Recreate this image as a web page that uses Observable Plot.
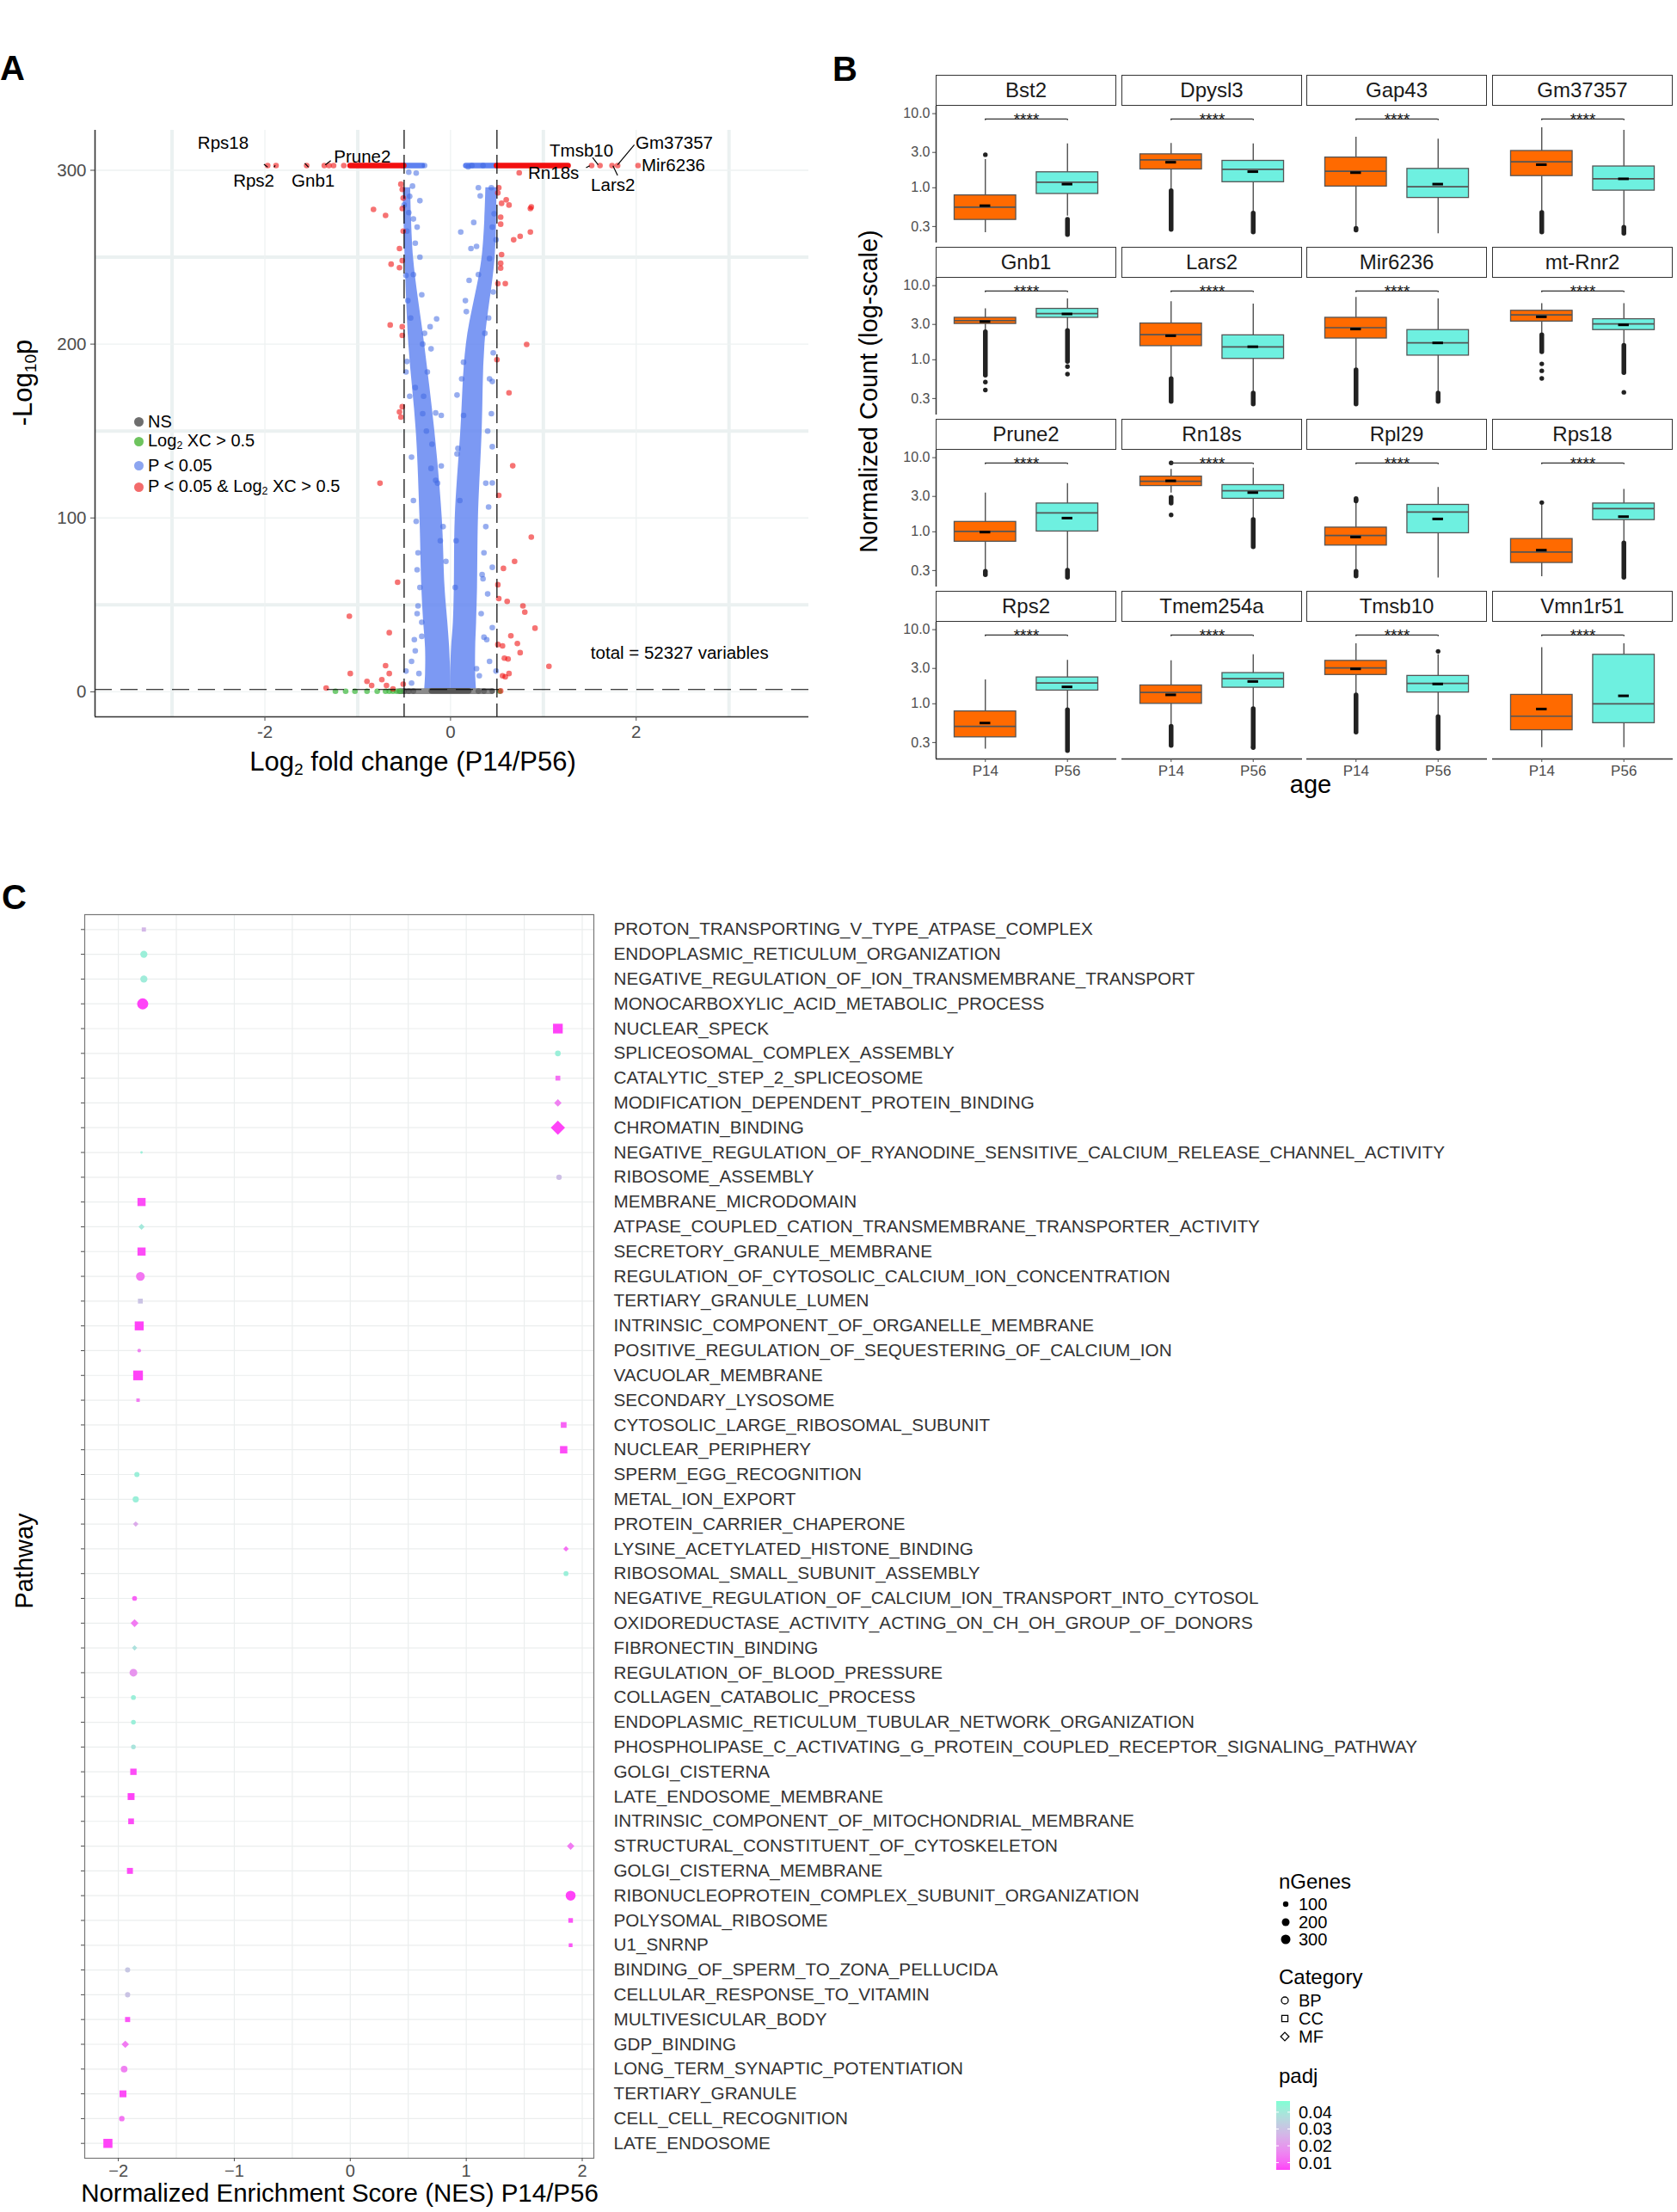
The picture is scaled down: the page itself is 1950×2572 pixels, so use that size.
<!DOCTYPE html>
<html><head><meta charset="utf-8">
<script src="https://cdn.jsdelivr.net/npm/d3@7"></script>
<script src="https://cdn.jsdelivr.net/npm/@observablehq/plot@0.6"></script>
<style>
body{margin:0;background:#fff;}
#root{position:relative;width:1950px;height:2572px;background:#fff;overflow:hidden;font-family:"Liberation Sans",Arial,Helvetica,sans-serif;}
.abs{position:absolute;white-space:nowrap;line-height:1;}
sub{font-size:62%;vertical-align:-0.25em;}
</style></head><body><div id="root"></div>
<script>
// ===================== DATA: Panel A (volcano) =====================
const redX = [-0.535,-0.52,-0.51,-0.52,-0.83,-0.70,-0.51,-0.55,-0.64,-0.55,-0.52,-0.65,-0.52,-0.52,-0.55,-0.52,-0.535,-0.76,-0.57,-1.09,-0.66,-0.70,-1.08,-0.66,-0.90,-0.74,-0.85,-0.69,-0.51,-0.62,-1.34,
  0.52,0.51,0.55,0.60,0.63,0.86,0.54,0.54,0.68,0.75,0.86,0.55,0.54,0.54,0.59,0.51,0.82,0.50,0.63,0.67,0.52,0.87,0.69,0.57,0.51,0.52,0.61,0.78,0.80,0.91,0.65,0.72,0.51,0.56,0.75,0.58,0.62,1.06,0.56,0.59,0.63,0.54,
  -1.97,-1.88,-1.55,-1.36,-1.31,-1.26,-1.15,1.52,1.61,1.74,1.80,2.02,0.74,0.87];
const redY = [292,289,284,278,277.5,274,265,255,246,244,248,211,210,205,161,164,158,120,63,43.5,34,15,10.5,10.5,6,7,3.6,3.6,4.4,1.7,2.2,
  290,287,281,283,280,278,273,269,260,262,264.5,251.5,246.5,243.7,234.8,234.8,199.8,191,172,130,113,89,75,71,61.6,53.6,52,49.4,45.8,36.6,32.2,27.8,27.2,26.4,22.5,19.4,18.9,14.7,9.2,8.6,10.5,0.5,
  302.7,302.7,302.7,302.7,302.7,302.7,302.7,302.7,302.7,302.7,302.7,302.7,298.5,278.9];
const blueX = [-0.45,-0.37,-0.41,-0.33,-0.45,-0.36,-0.38,-0.48,-0.31,-0.15,-0.21,-0.28,-0.25,-0.48,-0.16,-0.10,-0.20,-0.21,-0.10,-0.16,-0.37,-0.11,-0.36,-0.35,-0.38,-0.42,-0.34,-0.42,-0.48,-0.31,-0.28,
  -0.40,-0.42,-0.44,-0.47,-0.43,-0.46,-0.40,-0.38,-0.30,-0.14,-0.08,-0.05,-0.35,-0.33,-0.31,-0.39,-0.36,-0.29,-0.26,-0.33,-0.47,-0.50,-0.44,-0.40,-0.22,-0.30,
  0.19,0.11,0.20,0.32,0.28,0.42,0.45,0.17,0.37,0.14,0.45,0.07,0.14,0.45,0.07,0.45,0.41,0.06,0.45,0.34,0.40,0.45,0.36,0.42,0.49,0.28,0.31,0.23,0.35,
  0.38,0.40,0.44,0.46,0.41,0.46,0.30,0.25,0.22,0.38,0.36,0.33,0.39,0.10,0.08,0.12,0.16,0.47,0.44,0.49,0.30,0.42,0.05,0.35];
const blueY = [298.9,298.4,290.9,282.5,275.6,267.3,258.1,239.5,228.4,214.5,197.3,206.2,184,184,160.4,159,142.4,128.5,129.9,121.6,98,86.9,70.2,49.4,23.6,17.5,10.5,5,11.9,31.9,302.7,
  110,135,170,190,215,225,240,175,160,120,95,75,80,60,40,30,45,170,150,250,265,280,285,272,210,200,
  302,264.5,236.7,285.3,256.2,249.2,267.3,218.7,206.2,189.6,178.5,170.7,159,141,136.8,120.2,106.3,86.9,71.6,67.4,56.3,36.9,31.4,17.5,11.9,13.3,9.2,302.7,302.7,
  120,150,160,195,215,230,240,270,255,95,80,45,30,110,140,180,225,275,290,260,290,180,60,65];
const greenX = [-1.24,-1.13,-1.03,-0.90,-0.79,-0.70,-0.66,-0.62,-0.58,-0.54,0.53];
const greenY = [0.3,0.3,0.3,0.3,0.3,0.3,0.3,0.3,0.3,0.3,0.3];
const greyX = [-0.50,-0.45,-0.40,0.30,0.36,0.45];
const greyY = [0.4,0.4,0.4,0.4,0.4,0.4];
// dense runs of overplotted points (capped p-values at top, NS cluster at bottom)
const bandGroup = ["blue","red","blue","red","grey","greyDark"];
const bandX1 = [-0.51,-1.077,0.17,0.50,-0.55,-0.20];
const bandX2 = [-0.30,-0.50,0.50,1.27,0.45,0.20];
const bandY = [302.7,302.7,302.7,302.7,0.4,0.6];
// envelope of the dense core of the "P < 0.05" cloud
const cloudY = [0.5,10,25,40,60,100,150,200,250,290];
const cloudLeftOuter = [-0.28,-0.27,-0.27,-0.29,-0.31,-0.33,-0.37,-0.45,-0.49,-0.51];
const cloudLeftInner = [0.0,0.0,-0.01,-0.03,-0.06,-0.09,-0.17,-0.28,-0.40,-0.43];
const cloudRightInner = [0.0,0.0,0.01,0.03,0.04,0.05,0.11,0.17,0.34,0.38];
const cloudRightOuter = [0.28,0.27,0.27,0.28,0.29,0.30,0.34,0.37,0.48,0.50];
// gene labels
const labName = ["Rps18","Rps2","Gnb1","Prune2","Tmsb10","Gm37357","Mir6236","Rn18s","Lars2"];
const labX = [-2.45,-2.12,-1.48,-0.95,1.41,2.41,2.40,1.11,1.75];
const labY = [315.6,294,294,307.6,311.4,315.5,302.6,298.2,291.6];
const conX1 = [-2.01,-1.90,-1.57,-1.35,1.53,1.98,1.75,1.46];
const conY1 = [303.5,301.8,304,303.1,307.3,314.7,302.6,301.5];
const conX2 = [-1.97,-1.89,-1.53,-1.29,1.59,1.80,1.80,1.50];
const conY2 = [301.8,302.8,301.8,305.6,303.1,303.1,297,302.6];
const volcanoXTicks = [-2,0,2];
const volcanoYTicks = [0,100,200,300];

// ===================== DATA: Panel B (boxplots) =====================
const genes = ["Bst2","Dpysl3","Gap43","Gm37357","Gnb1","Lars2","Mir6236","mt-Rnr2","Prune2","Rn18s","Rpl29","Rps18","Rps2","Tmem254a","Tmsb10","Vmn1r51"];
const ages = ["P14","P56"];
const p14Hi   = [2.41,3.97,4.81,6.44,4.87,6.07,6.93,5.73,3.33,6.93,2.40,2.31,2.11,3.80,6.44,5.73];
const p14Q3   = [0.79,2.83,2.56,3.14,3.69,3.09,3.69,4.59,1.36,5.56,1.14,0.80,0.79,1.77,3.80,1.32];
const p14Med  = [0.548,2.38,1.67,2.24,3.38,2.18,2.71,4.03,1.01,4.81,0.89,0.532,0.495,1.42,3.05,0.68];
const p14Mean = [0.573,2.21,1.60,2.05,3.28,2.11,2.60,3.80,0.99,4.87,0.85,0.565,0.55,1.32,2.96,0.85];
const p14Q1   = [0.369,1.77,1.04,1.44,3.05,1.53,1.94,3.28,0.735,4.15,0.653,0.38,0.353,1.00,2.45,0.44];
const p14Lo   = [0.248,0.93,0.288,0.48,2.41,0.565,0.735,2.21,0.296,3.33,0.296,0.248,0.245,0.49,1.32,0.256];
const p14OutLo = [null,0.27,0.265,0.25,0.61,0.27,0.25,1.27,0.26,2.40,0.25,null,null,0.27,0.41,null];
const p14OutHi = [null,0.90,0.28,0.46,2.35,0.55,0.72,2.15,0.29,2.87,0.29,null,null,0.49,1.30,null];
const p56Hi   = [3.91,3.91,4.53,5.98,6.64,5.65,6.64,5.73,4.47,7.24,3.97,3.74,3.86,4.59,4.59,6.44];
const p56Q3   = [1.62,2.31,1.80,1.94,4.87,2.14,2.52,3.53,2.41,4.27,2.31,2.41,2.27,2.60,2.38,4.59];
const p56Med  = [1.19,1.77,1.03,1.32,4.21,1.49,1.69,3.05,1.80,3.58,1.85,2.05,1.91,2.18,1.88,1.00];
const p56Mean = [1.12,1.65,1.12,1.32,4.15,1.50,1.69,2.96,1.53,3.38,1.49,1.60,1.69,2.00,1.85,1.28];
const p56Q1   = [0.826,1.19,0.73,0.916,3.69,1.03,1.14,2.52,1.01,2.79,0.957,1.44,1.51,1.65,1.42,0.548];
const p56Lo   = [0.415,0.47,0.24,0.296,2.52,0.364,0.364,1.60,0.305,1.49,0.238,0.715,0.85,0.877,0.68,0.256];
const p56OutLo = [0.23,0.25,null,0.24,0.94,0.25,0.27,0.66,0.24,0.62,null,0.24,0.23,0.26,0.245,null];
const p56OutHi = [0.37,0.45,null,0.29,2.45,0.35,0.35,1.55,0.30,1.45,null,0.70,0.82,0.85,0.66,null];
const singleGene = ["Bst2","Gnb1","Gnb1","Gnb1","Gnb1","mt-Rnr2","mt-Rnr2","mt-Rnr2","mt-Rnr2","Rn18s","Rn18s","Rps18","Rpl29","Rpl29","Rpl29","Tmsb10","Tmem254a"];
const singleAge  = ["P14","P14","P14","P56","P56","P14","P14","P14","P56","P14","P14","P14","P14","P14","P14","P56","P56"];
const singleVal  = [2.79,0.50,0.39,0.81,0.64,0.88,0.71,0.56,0.364,8.5,1.69,2.48,2.6,2.7,2.8,5.1,0.256];
const sigY = 8.46;
const sigLabel = "****";
const boxYTicks = [0.3,1,3,10];

// ===================== DATA: Panel C (GSEA dot plot) =====================
const pathways = ["PROTON_TRANSPORTING_V_TYPE_ATPASE_COMPLEX","ENDOPLASMIC_RETICULUM_ORGANIZATION","NEGATIVE_REGULATION_OF_ION_TRANSMEMBRANE_TRANSPORT","MONOCARBOXYLIC_ACID_METABOLIC_PROCESS","NUCLEAR_SPECK","SPLICEOSOMAL_COMPLEX_ASSEMBLY","CATALYTIC_STEP_2_SPLICEOSOME","MODIFICATION_DEPENDENT_PROTEIN_BINDING","CHROMATIN_BINDING","NEGATIVE_REGULATION_OF_RYANODINE_SENSITIVE_CALCIUM_RELEASE_CHANNEL_ACTIVITY","RIBOSOME_ASSEMBLY","MEMBRANE_MICRODOMAIN","ATPASE_COUPLED_CATION_TRANSMEMBRANE_TRANSPORTER_ACTIVITY","SECRETORY_GRANULE_MEMBRANE","REGULATION_OF_CYTOSOLIC_CALCIUM_ION_CONCENTRATION","TERTIARY_GRANULE_LUMEN","INTRINSIC_COMPONENT_OF_ORGANELLE_MEMBRANE","POSITIVE_REGULATION_OF_SEQUESTERING_OF_CALCIUM_ION","VACUOLAR_MEMBRANE","SECONDARY_LYSOSOME","CYTOSOLIC_LARGE_RIBOSOMAL_SUBUNIT","NUCLEAR_PERIPHERY","SPERM_EGG_RECOGNITION","METAL_ION_EXPORT","PROTEIN_CARRIER_CHAPERONE","LYSINE_ACETYLATED_HISTONE_BINDING","RIBOSOMAL_SMALL_SUBUNIT_ASSEMBLY","NEGATIVE_REGULATION_OF_CALCIUM_ION_TRANSPORT_INTO_CYTOSOL","OXIDOREDUCTASE_ACTIVITY_ACTING_ON_CH_OH_GROUP_OF_DONORS","FIBRONECTIN_BINDING","REGULATION_OF_BLOOD_PRESSURE","COLLAGEN_CATABOLIC_PROCESS","ENDOPLASMIC_RETICULUM_TUBULAR_NETWORK_ORGANIZATION","PHOSPHOLIPASE_C_ACTIVATING_G_PROTEIN_COUPLED_RECEPTOR_SIGNALING_PATHWAY","GOLGI_CISTERNA","LATE_ENDOSOME_MEMBRANE","INTRINSIC_COMPONENT_OF_MITOCHONDRIAL_MEMBRANE","STRUCTURAL_CONSTITUENT_OF_CYTOSKELETON","GOLGI_CISTERNA_MEMBRANE","RIBONUCLEOPROTEIN_COMPLEX_SUBUNIT_ORGANIZATION","POLYSOMAL_RIBOSOME","U1_SNRNP","BINDING_OF_SPERM_TO_ZONA_PELLUCIDA","CELLULAR_RESPONSE_TO_VITAMIN","MULTIVESICULAR_BODY","GDP_BINDING","LONG_TERM_SYNAPTIC_POTENTIATION","TERTIARY_GRANULE","CELL_CELL_RECOGNITION","LATE_ENDOSOME"];
const nes = [-1.78,-1.78,-1.78,-1.79,1.79,1.79,1.79,1.79,1.79,-1.80,1.80,-1.80,-1.80,-1.80,-1.81,-1.81,-1.82,-1.82,-1.83,-1.83,1.84,1.84,-1.84,-1.85,-1.85,1.86,1.86,-1.86,-1.86,-1.86,-1.87,-1.87,-1.87,-1.87,-1.87,-1.89,-1.89,1.90,-1.90,1.90,1.90,1.90,-1.92,-1.92,-1.92,-1.94,-1.95,-1.96,-1.97,-2.09];
const nGenes = [75,170,170,410,400,110,100,150,550,20,100,280,100,280,260,100,340,45,400,50,140,230,90,130,80,80,80,80,170,75,200,80,75,75,170,200,140,150,150,330,90,60,90,90,110,150,150,200,100,350];
const category = ["CC","BP","BP","BP","CC","BP","CC","MF","MF","BP","BP","CC","MF","CC","BP","CC","CC","BP","CC","CC","CC","CC","BP","BP","MF","MF","BP","BP","MF","MF","BP","BP","BP","BP","CC","CC","CC","MF","CC","BP","CC","CC","BP","BP","CC","MF","BP","CC","BP","CC"];
const padj = [0.027,0.042,0.041,0.006,0.006,0.042,0.012,0.015,0.006,0.042,0.029,0.007,0.040,0.007,0.013,0.030,0.006,0.016,0.006,0.014,0.010,0.007,0.042,0.042,0.024,0.012,0.042,0.010,0.014,0.038,0.019,0.042,0.042,0.039,0.007,0.006,0.007,0.014,0.007,0.006,0.008,0.008,0.031,0.030,0.008,0.014,0.015,0.007,0.013,0.006];
const nesTicks = [-2,-1,0,1,2];
const sizeBreaks = [100,200,300];
const categoryNames = ["BP","CC","MF"];
const padjBreaks = [0.04,0.03,0.02,0.01];

// ===================== helpers =====================
const FONT = '"Liberation Sans", Arial, Helvetica, sans-serif';
const root = document.getElementById("root");
function put(el, left, top) {
  el.style.position = "absolute"; el.style.left = left + "px"; el.style.top = top + "px";
  root.appendChild(el); return el;
}
function txt(html, x, y, o = {}) {
  const {size = 20, weight = "normal", anchor = "start", color = "#000", rotate = 0} = o;
  const d = document.createElement("div");
  d.className = "abs";
  d.innerHTML = html;
  const tx = anchor === "start" ? "0%" : anchor === "middle" ? "-50%" : "-100%";
  d.style.left = x + "px"; d.style.top = y + "px";
  d.style.fontSize = size + "px"; d.style.fontWeight = weight; d.style.color = color;
  d.style.transform = `translate(${tx},-50%)` + (rotate ? ` rotate(${rotate}deg)` : "");
  root.appendChild(d); return d;
}
const baseStyle = {fontFamily: FONT, background: "transparent", overflow: "visible", color: "#4d4d4d"};

// ===================== Panel A =====================
const A_XDOM = [-3.83, 3.86], A_YDOM = [-14.4, 323];
const redPts = redX.map((x, i) => ({x, y: redY[i]}));
const bluePts = blueX.map((x, i) => ({x, y: blueY[i]}));
const greenPts = greenX.map((x, i) => ({x, y: greenY[i]}));
const greyPts = greyX.map((x, i) => ({x, y: greyY[i]}));
const bands = bandGroup.map((g, i) => ({g, x1: bandX1[i], x2: bandX2[i], y: bandY[i]}));
const bandColor = {blue: "#5f82f0", red: "#f21010", grey: "#8a8a8a", greyDark: "#555555"};
const cloudL = cloudY.map((y, i) => ({y, x1: cloudLeftOuter[i], x2: cloudLeftInner[i]}));
const cloudR = cloudY.map((y, i) => ({y, x1: cloudRightInner[i], x2: cloudRightOuter[i]}));
const labs = labName.map((t, i) => ({t, x: labX[i], y: labY[i]}));
const cons = conX1.map((x1, i) => ({x1, y1: conY1[i], x2: conX2[i], y2: conY2[i]}));

const svgA = Plot.plot({
  width: 960, height: 840, marginLeft: 110, marginRight: 20, marginTop: 51, marginBottom: 107,
  x: {domain: A_XDOM}, y: {domain: A_YDOM},
  style: {...baseStyle, fontSize: "20.5px"},
  marks: [
    Plot.ruleX([-3, -1, 1, 3], {stroke: "#ebf1f1", strokeWidth: 4}),
    Plot.ruleY([50, 150, 250], {stroke: "#ebf1f1", strokeWidth: 4}),
    Plot.ruleX(volcanoXTicks, {stroke: "#eef2f2", strokeWidth: 1.3}),
    Plot.ruleY(volcanoYTicks, {stroke: "#eef2f2", strokeWidth: 1.3}),
    Plot.areaX(cloudL, {y: "y", x1: "x1", x2: "x2", fill: "#5f82f0", fillOpacity: 0.82, curve: "catmull-rom"}),
    Plot.areaX(cloudR, {y: "y", x1: "x1", x2: "x2", fill: "#5f82f0", fillOpacity: 0.82, curve: "catmull-rom"}),
    Plot.ruleY(bands.filter(d => d.g.startsWith("grey") || d.g === "blue"), {y: "y", x1: "x1", x2: "x2", stroke: d => bandColor[d.g], strokeWidth: 6.6, strokeLinecap: "round"}),
    Plot.dot(greyPts, {x: "x", y: "y", r: 3.3, fill: "#4d4d4d", fillOpacity: 0.6}),
    Plot.dot(greenPts, {x: "x", y: "y", r: 3.3, fill: "#3cb83c", fillOpacity: 0.7}),
    Plot.dot(bluePts, {x: "x", y: "y", r: 3.3, fill: "#4169e1", fillOpacity: 0.55}),
    Plot.ruleY(bands.filter(d => d.g === "red"), {y: "y", x1: "x1", x2: "x2", stroke: bandColor.red, strokeWidth: 6.6, strokeLinecap: "round"}),
    Plot.dot(redPts, {x: "x", y: "y", r: 3.3, fill: "#ee0000", fillOpacity: 0.55}),
    Plot.ruleX([-0.5, 0.5], {stroke: "#000", strokeWidth: 1.2, strokeDasharray: "22,7"}),
    Plot.ruleY([1.3], {stroke: "#000", strokeWidth: 1.2, strokeDasharray: "20,10"}),
    Plot.ruleX([A_XDOM[0]], {stroke: "#333", strokeWidth: 1.6}),
    Plot.ruleY([A_YDOM[0]], {stroke: "#333", strokeWidth: 1.6}),
    Plot.axisX({ticks: volcanoXTicks, tickSize: 5, tickPadding: 5, label: null, tickFormat: d => d < 0 ? "-" + (-d) : String(d), fontSize: 20.5}),
    Plot.axisY({ticks: volcanoYTicks, tickSize: 5, tickPadding: 5, label: null, fontSize: 20.5}),
    Plot.link(cons, {x1: "x1", y1: "y1", x2: "x2", y2: "y2", stroke: "#000", strokeWidth: 1.2}),
    Plot.text(labs, {x: "x", y: "y", text: "t", fontSize: 20.5, fill: "#000"}),
    Plot.text(["total = 52327 variables"], {x: 1.51, y: 22.3, text: d => d, textAnchor: "start", fontSize: 20.5, fill: "#000"})
  ]
});
put(svgA, 0, 100);

txt("A", 0, 79, {size: 40, weight: "bold"});
txt("Log<sub>2</sub> fold change (P14/P56)", 480, 887, {size: 31, anchor: "middle"});
txt("-Log<sub>10</sub>p", 28, 445, {size: 31, anchor: "middle", rotate: -90});
// in-panel legend
const legA = [
  {html: "NS", col: "#6e6e6e", y: 490},
  {html: "Log<sub>2</sub> XC &gt; 0.5", col: "#6ec45e", y: 513},
  {html: "P &lt; 0.05", col: "#8ca5f0", y: 541},
  {html: "P &lt; 0.05 &amp; Log<sub>2</sub> XC &gt; 0.5", col: "#f36b6b", y: 566}
];
legA.forEach(d => {
  const dot = document.createElement("div");
  dot.className = "abs";
  dot.style.cssText = `width:11px;height:11px;border-radius:50%;background:${d.col};left:${161 - 5.5}px;top:${d.y - 5.5}px;`;
  root.appendChild(dot);
  txt(d.html, 172, d.y, {size: 20});
});

// ===================== Panel B =====================
const ORANGE = "#ff6a00", CYAN = "#6ef0e0";
const colX = [1088, 1304, 1519, 1735];
const stripTop = [87, 287, 487, 687];
const PW = 210, PH = 159, SH = 36;
const B_YDOM = [0.18, 12.6], B_XDOM = [0.4, 2.6];
genes.forEach((g, i) => {
  const row = Math.floor(i / 4), col = i % 4;
  const boxes = [
    {pos: 1, lo: p14Lo[i], q1: p14Q1[i], med: p14Med[i], q3: p14Q3[i], hi: p14Hi[i], mean: p14Mean[i], fill: ORANGE},
    {pos: 2, lo: p56Lo[i], q1: p56Q1[i], med: p56Med[i], q3: p56Q3[i], hi: p56Hi[i], mean: p56Mean[i], fill: CYAN}
  ];
  const outs = [];
  if (p14OutLo[i] != null) outs.push({pos: 1, lo: p14OutLo[i], hi: p14OutHi[i]});
  if (p56OutLo[i] != null) outs.push({pos: 2, lo: p56OutLo[i], hi: p56OutHi[i]});
  const singles = singleGene.map((s, k) => ({g: s, pos: ages.indexOf(singleAge[k]) + 1, v: singleVal[k]})).filter(d => d.g === g);
  const left = col === 0, bottom = row === 3;
  const ml = left ? 62 : 0, mb = bottom ? 40 : 0;
  const marks = [
    Plot.ruleX(boxes, {x: "pos", y1: "lo", y2: "hi", stroke: "#333", strokeWidth: 1.2}),
    Plot.ruleX(outs, {x: "pos", y1: "lo", y2: "hi", stroke: "#222", strokeWidth: 5.5, strokeLinecap: "round"}),
    Plot.dot(singles, {x: "pos", y: "v", r: 2.7, fill: "#222"}),
    Plot.rect(boxes, {x1: d => d.pos - 0.375, x2: d => d.pos + 0.375, y1: "q1", y2: "q3", fill: "fill", stroke: "#555", strokeWidth: 1.3}),
    Plot.ruleY(boxes, {y: "med", x1: d => d.pos - 0.375, x2: d => d.pos + 0.375, stroke: "#555", strokeWidth: 1.7}),
    Plot.ruleY(boxes, {y: "mean", x1: d => d.pos - 0.065, x2: d => d.pos + 0.065, stroke: "#000", strokeWidth: 3}),
    Plot.ruleY([sigY], {y: d => d, x1: 1, x2: 2, stroke: "#333", strokeWidth: 1.3}),
    Plot.ruleX([1, 2], {x: d => d, y1: sigY, y2: sigY * 0.95, stroke: "#333", strokeWidth: 1.3}),
    Plot.text([sigLabel], {x: 1.5, y: sigY, text: d => d, fontSize: 19, fill: "#111"})
  ];
  if (left) {
    marks.push(Plot.ruleX([B_XDOM[0]], {stroke: "#333", strokeWidth: 1.5}));
    marks.push(Plot.axisY({ticks: boxYTicks, tickFormat: d3.format(".1f"), tickSize: 4, tickPadding: 3, fontSize: 16, label: null}));
  }
  if (bottom) {
    marks.push(Plot.ruleY([B_YDOM[0]], {stroke: "#333", strokeWidth: 1.5}));
    marks.push(Plot.axisX({ticks: [1, 2], tickFormat: d => ages[d - 1], tickSize: 4, tickPadding: 3, fontSize: 17, label: null}));
  }
  const svg = Plot.plot({
    width: PW + ml, height: PH + mb, marginLeft: ml, marginRight: 0, marginTop: 0, marginBottom: mb,
    x: {domain: B_XDOM, ...(bottom ? {} : {axis: null})},
    y: {type: "log", domain: B_YDOM, ...(left ? {} : {axis: null})},
    color: {type: "identity"},
    style: {...baseStyle, fontSize: "16px"},
    marks
  });
  put(svg, colX[col] - ml, stripTop[row] + SH);
  const strip = document.createElement("div");
  strip.className = "abs";
  strip.style.cssText = `left:${colX[col]}px;top:${stripTop[row]}px;width:${PW}px;height:${SH}px;box-sizing:border-box;border:1.3px solid #333;background:#fff;display:flex;align-items:center;justify-content:center;font-size:24px;color:#1a1a1a;`;
  strip.textContent = g;
  root.appendChild(strip);
});
txt("B", 968, 80, {size: 40, weight: "bold"});
txt("Normalized Count (log-scale)", 1010, 455, {size: 29, anchor: "middle", rotate: -90, color: "#000"});
txt("age", 1524, 912, {size: 29, anchor: "middle"});

// ===================== Panel C =====================
const LOWC = "#ff40f8", HIGHC = "#7fffd4";
const PADJ_DOM = [0.0057, 0.0466];
const gsea = pathways.map((p, i) => ({p, nes: nes[i], n: nGenes[i], cat: category[i], padj: padj[i]}));
const rScale = {type: "sqrt", domain: [0, 600], range: [0, 7.8]};
const svgC = Plot.plot({
  width: 1710, height: 1542, marginLeft: 58, marginRight: 1060, marginTop: 33, marginBottom: 63,
  x: {domain: [-2.29, 2.10]},
  y: {type: "point", domain: pathways, padding: 0.6},
  r: rScale,
  symbol: {domain: categoryNames, range: ["circle", "square", "diamond2"]},
  color: {type: "linear", domain: PADJ_DOM, range: [LOWC, HIGHC], interpolate: "lab"},
  style: {...baseStyle, fontSize: "20px"},
  marks: [
    Plot.ruleX([-2, -1.5, -1, -0.5, 0, 0.5, 1, 1.5, 2], {stroke: "#ebeeee", strokeWidth: 1.2}),
    Plot.ruleY(pathways, {stroke: "#ebeeee", strokeWidth: 1.2}),
    Plot.dot(gsea, {x: "nes", y: "p", r: "n", symbol: "cat", fill: "padj", stroke: null}),
    Plot.frame({stroke: "#777", strokeWidth: 1.2}),
    Plot.axisX({ticks: nesTicks, tickSize: 4, tickPadding: 3, fontSize: 20, label: null, tickFormat: d => d < 0 ? "\u2212" + (-d) : String(d)}),
    Plot.axisY({anchor: "left", tickSize: 4, tickFormat: () => "", label: null}),
    Plot.axisY({anchor: "right", tickSize: 0, tickPadding: 23, fontSize: 20.7, label: null, color: "#333"})
  ]
});
put(svgC, 40, 1030);
txt("C", 2, 1043, {size: 40, weight: "bold"});
txt("Normalized Enrichment Score (NES) P14/P56", 395, 2550, {size: 29.5, anchor: "middle"});
txt("Pathway", 28, 1815, {size: 29, anchor: "middle", rotate: -90});

// legend for panel C (drawn from the same scales)
const rFn = d3.scaleSqrt().domain(rScale.domain).range(rScale.range);
const colFn = d3.scaleLinear().domain(PADJ_DOM).range([LOWC, HIGHC]).interpolate(d3.interpolateLab);
const leg = d3.create("svg").attr("width", 220).attr("height", 380).style("overflow", "visible")
  .style("font-family", FONT);
const LX = 1470, LY = 2170;
const g0 = leg.append("g").attr("transform", `translate(${-LX},${-LY})`);
g0.append("text").attr("x", 1487).attr("y", 2188).attr("dy", "0.35em").attr("font-size", 24).text("nGenes");
const sizeY = [2214, 2235, 2255];
sizeBreaks.forEach((b, k) => {
  g0.append("circle").attr("cx", 1495).attr("cy", sizeY[k]).attr("r", rFn(b)).attr("fill", "#000");
  g0.append("text").attr("x", 1510).attr("y", sizeY[k]).attr("dy", "0.35em").attr("font-size", 20).text(b);
});
g0.append("text").attr("x", 1487).attr("y", 2299).attr("dy", "0.35em").attr("font-size", 24).text("Category");
const catY = [2326, 2347, 2368];
const symPath = {BP: d3.symbol(d3.symbolCircle, 50)(), CC: d3.symbol(d3.symbolSquare, 50)(), MF: d3.symbol(d3.symbolDiamond2, 60)()};
categoryNames.forEach((c, k) => {
  g0.append("path").attr("d", symPath[c]).attr("transform", `translate(1494,${catY[k]})`).attr("fill", "none").attr("stroke", "#000").attr("stroke-width", 1.3);
  g0.append("text").attr("x", 1510).attr("y", catY[k]).attr("dy", "0.35em").attr("font-size", 20).text(c);
});
g0.append("text").attr("x", 1487).attr("y", 2414).attr("dy", "0.35em").attr("font-size", 24).text("padj");
const barTop = 2443, barBot = 2523, barX = 1484, barW = 16;
const grad = leg.append("defs").append("linearGradient").attr("id", "padjGrad").attr("x1", 0).attr("x2", 0).attr("y1", 1).attr("y2", 0);
d3.range(0, 1.0001, 0.1).forEach(t => {
  grad.append("stop").attr("offset", t).attr("stop-color", colFn(PADJ_DOM[0] + t * (PADJ_DOM[1] - PADJ_DOM[0])));
});
g0.append("rect").attr("x", barX).attr("y", barTop).attr("width", barW).attr("height", barBot - barTop).attr("fill", "url(#padjGrad)");
const pY = v => barBot - (v - PADJ_DOM[0]) / (PADJ_DOM[1] - PADJ_DOM[0]) * (barBot - barTop);
padjBreaks.forEach(v => {
  g0.append("line").attr("x1", barX).attr("x2", barX + 3).attr("y1", pY(v)).attr("y2", pY(v)).attr("stroke", "#fff");
  g0.append("line").attr("x1", barX + barW - 3).attr("x2", barX + barW).attr("y1", pY(v)).attr("y2", pY(v)).attr("stroke", "#fff");
  g0.append("text").attr("x", 1510).attr("y", pY(v)).attr("dy", "0.35em").attr("font-size", 20).text(v.toFixed(2));
});
put(leg.node(), LX, LY);
</script></body></html>
